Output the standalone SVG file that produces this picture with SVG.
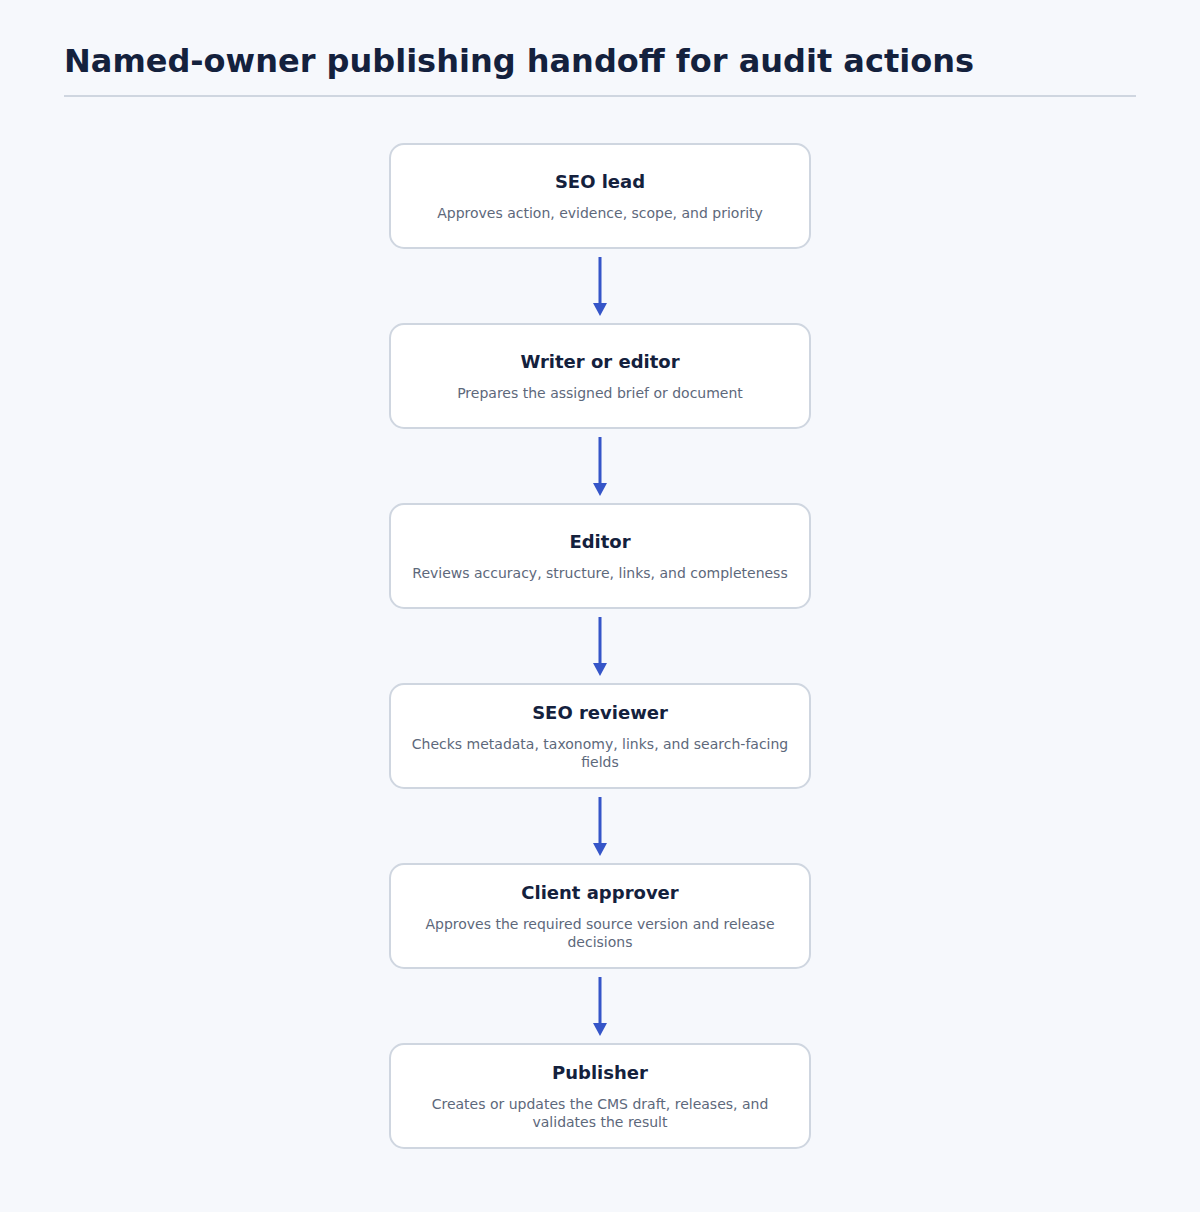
<svg xmlns="http://www.w3.org/2000/svg" width="1200" height="1212" viewBox="0 0 1200 1212">
<style>
.title{font-family:"DejaVu Sans",sans-serif;font-weight:bold;font-size:32px;fill:#14213d}
.box{fill:#ffffff;stroke:#cfd6e0;stroke-width:2}
.nt{font-family:"DejaVu Sans",sans-serif;font-weight:bold;font-size:18px;fill:#14213d;text-anchor:middle}
.ns{font-family:"DejaVu Sans",sans-serif;font-size:14px;fill:#5d687b;text-anchor:middle}
.conn{stroke:#3555c8;stroke-width:3;fill:none;marker-end:url(#ah)}
</style>
<defs>
<marker id="ah" markerWidth="13" markerHeight="14" refX="2" refY="7" orient="auto" markerUnits="userSpaceOnUse" viewBox="0 0 13 14">
<path d="M0,0 L13,7 L0,14 z" fill="#3555c8"/>
</marker>
</defs>
<rect width="1200" height="1212" fill="#f6f8fc"/>
<text class="title" x="64" y="72">Named-owner publishing handoff for audit actions</text>
<line x1="64" y1="96" x2="1136" y2="96" stroke="#cfd6e0" stroke-width="2"/>
<g id="connectors">
<path class="conn" d="M600,257 L600,305"/>
<path class="conn" d="M600,437 L600,485"/>
<path class="conn" d="M600,617 L600,665"/>
<path class="conn" d="M600,797 L600,845"/>
<path class="conn" d="M600,977 L600,1025"/>
</g>
<g id="seo-lead">
<rect class="box" x="390" y="144" width="420" height="104" rx="14"/>
<text class="nt" x="600" y="188">SEO lead</text>
<text class="ns" x="600" y="218">Approves action, evidence, scope, and priority</text>
</g>
<g id="writer">
<rect class="box" x="390" y="324" width="420" height="104" rx="14"/>
<text class="nt" x="600" y="368">Writer or editor</text>
<text class="ns" x="600" y="398">Prepares the assigned brief or document</text>
</g>
<g id="editor">
<rect class="box" x="390" y="504" width="420" height="104" rx="14"/>
<text class="nt" x="600" y="548">Editor</text>
<text class="ns" x="600" y="578">Reviews accuracy, structure, links, and completeness</text>
</g>
<g id="seo-reviewer">
<rect class="box" x="390" y="684" width="420" height="104" rx="14"/>
<text class="nt" x="600" y="719">SEO reviewer</text>
<text class="ns" x="600" y="749">Checks metadata, taxonomy, links, and search-facing</text>
<text class="ns" x="600" y="767">fields</text>
</g>
<g id="client-approver">
<rect class="box" x="390" y="864" width="420" height="104" rx="14"/>
<text class="nt" x="600" y="899">Client approver</text>
<text class="ns" x="600" y="929">Approves the required source version and release</text>
<text class="ns" x="600" y="947">decisions</text>
</g>
<g id="publisher">
<rect class="box" x="390" y="1044" width="420" height="104" rx="14"/>
<text class="nt" x="600" y="1079">Publisher</text>
<text class="ns" x="600" y="1109">Creates or updates the CMS draft, releases, and</text>
<text class="ns" x="600" y="1127">validates the result</text>
</g>
</svg>
